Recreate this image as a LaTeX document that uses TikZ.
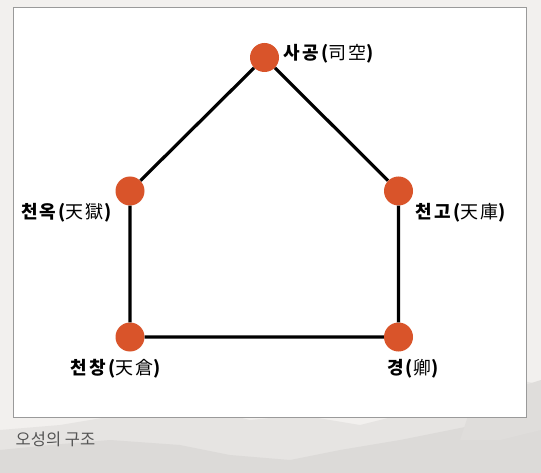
\documentclass[tikz,border=0pt]{standalone}
\usepackage{fontspec}
\newfontfamily\kr[LetterSpace=12]{Noto Sans CJK KR}
\newfontfamily\krcap{Noto Sans CJK KR}
\definecolor{bg}{HTML}{F2F0EE}
\definecolor{mtA}{HTML}{E6E4E2}
\definecolor{mtB}{HTML}{DCDAD8}
\definecolor{dotc}{HTML}{D9542A}
\definecolor{frame}{HTML}{9A9A9A}
\definecolor{capc}{HTML}{555555}
\tikzset{
  dot/.style={circle,fill=dotc,draw=none,minimum size=29pt,inner sep=0pt},
  edge/.style={line width=3.2pt,black},
  lab/.style={anchor=west,inner sep=0pt,font=\kr\fontsize{18}{21}\selectfont},
}
\begin{document}
\begin{tikzpicture}[x=1pt,y=-1pt]
\useasboundingbox (0,0) rectangle (541,473);
\fill[bg] (0,0) rectangle (541,473);
% faint mountains
\fill[mtA] (0,430) -- (60,425) -- (120,415) -- (170,418) -- (210,410) -- (250,420) -- (300,415) -- (360,425) -- (420,410) -- (470,395) -- (520,380) -- (541,385) -- (541,473) -- (0,473) -- cycle;
\fill[mtB] (0,450) -- (50,445) -- (110,440) -- (180,445) -- (230,455) -- (290,460) -- (340,450) -- (400,440) -- (450,430) -- (500,420) -- (541,410) -- (541,473) -- (0,473) -- cycle;
\fill[mtB!70!mtA] (470,410) -- (500,395) -- (525,385) -- (541,380) -- (541,430) -- (500,440) -- (460,440) -- cycle;
% white panel
\draw[frame,fill=white,line width=0.8pt] (13,7) rectangle (526,417);
% nodes
\node[dot] (sg) at (264.5,57.5) {};
\node[dot] (ok) at (130,191) {};
\node[dot] (go) at (398.5,191) {};
\node[dot] (ch) at (130,337) {};
\node[dot] (gy) at (398.5,337) {};
\draw[edge] (sg) -- (ok) -- (ch) -- (gy) -- (go) -- (sg);
% labels
\node[lab] (lsg) at (283.5,54) {\bfseries 사공(\mdseries 司空\bfseries )};
\node[lab] (lok) at (21,212.5) {\bfseries 천옥(\mdseries 天獄\bfseries )};
\node[lab] (lgo) at (415.5,212.5) {\bfseries 천고(\mdseries 天庫\bfseries )};
\node[lab] (lch) at (70.5,369) {\bfseries 천창(\mdseries 天倉\bfseries )};
\node[lab] (lgy) at (387,369) {\bfseries 경(\mdseries 卿\bfseries )};
% caption
\node[anchor=west,inner sep=0pt,text=capc,font=\krcap\fontsize{16.5}{19}\selectfont] (cap) at (15.5,439) {오성의 구조};
\end{tikzpicture}
\end{document}
